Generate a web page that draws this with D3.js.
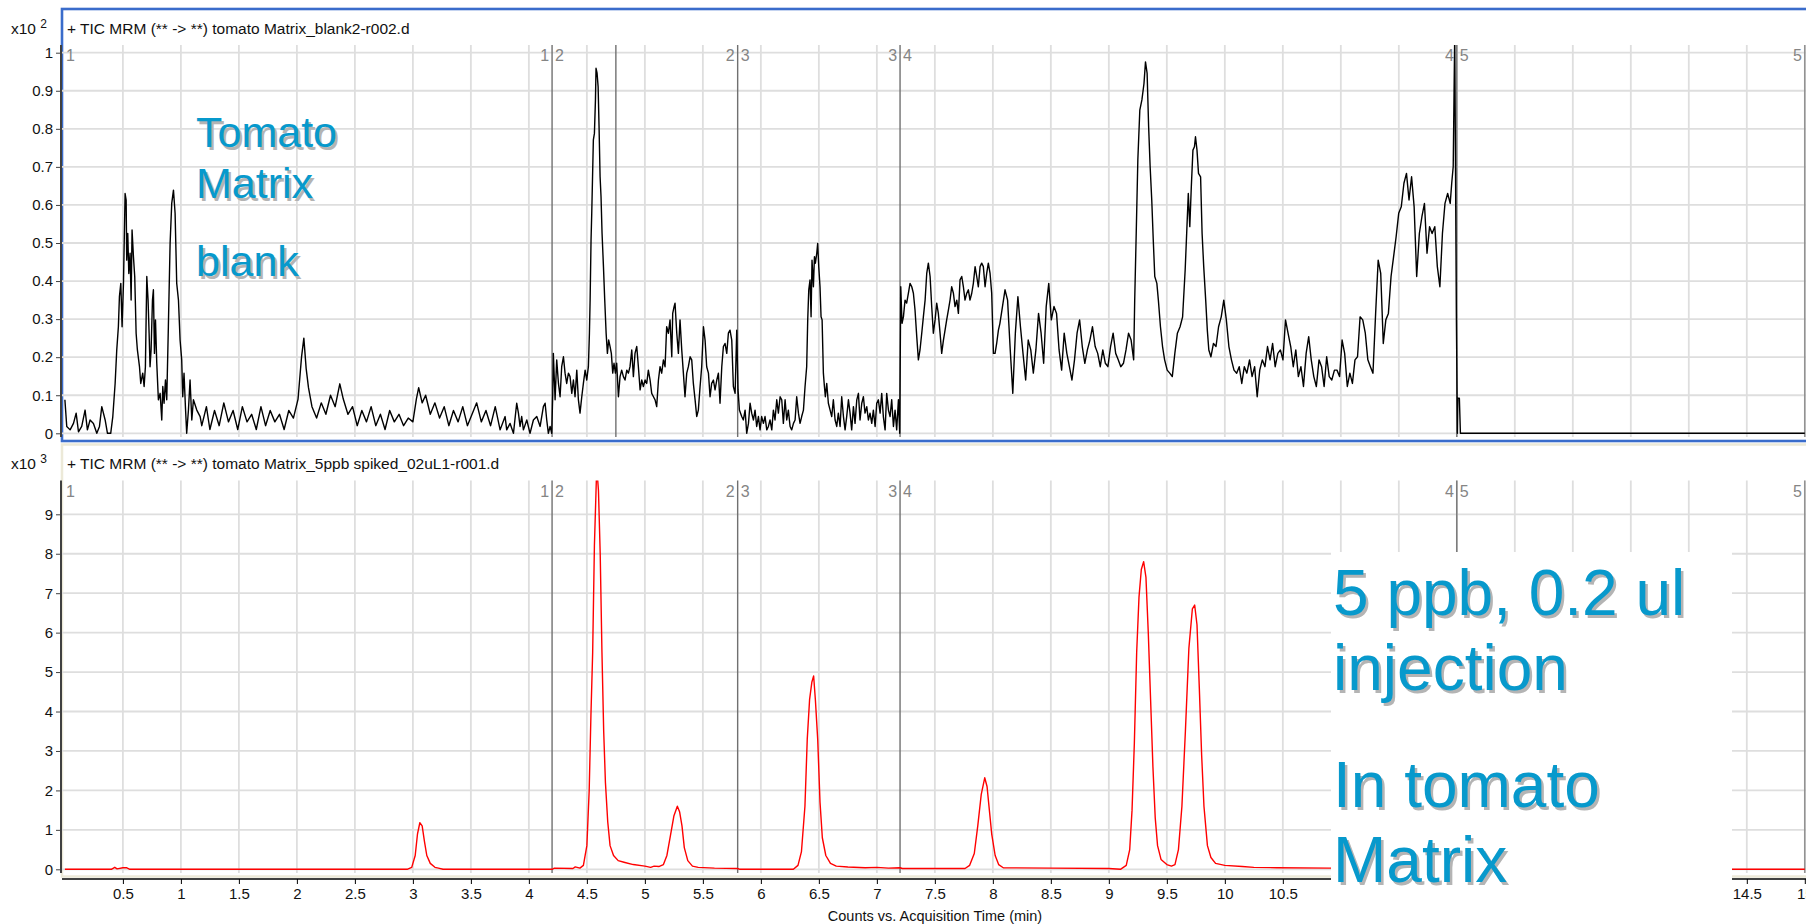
<!DOCTYPE html>
<html>
<head>
<meta charset="utf-8">
<script src="https://cdn.jsdelivr.net/npm/d3@7"></script>
<style>
  html, body { margin: 0; padding: 0; background: #ffffff; }
  svg { display: block; font-family: "Liberation Sans", Arial, sans-serif; }
</style>
</head>
<body>
<svg id="chart" width="1806" height="924"></svg>
<script>
// ---- Blank run: TIC counts (x10^2) vs acquisition time (min) ----
const blankTime = [
  0.000, 0.016, 0.045, 0.074, 0.097, 0.117, 0.145, 0.174, 0.194, 0.217, 0.246, 0.275, 0.298, 0.318, 0.347, 0.367, 0.395, 0.413,
  0.433, 0.447, 0.461, 0.470, 0.482, 0.493, 0.505, 0.519, 0.528, 0.533, 0.542, 0.551, 0.562, 0.571, 0.579, 0.591, 0.602, 0.614,
  0.625, 0.643, 0.654, 0.671, 0.683, 0.694, 0.706, 0.717, 0.726, 0.734, 0.743, 0.755, 0.763, 0.772, 0.781, 0.792, 0.806, 0.821,
  0.835, 0.844, 0.855, 0.867, 0.878, 0.892, 0.907, 0.921, 0.936, 0.950, 0.964, 0.979, 0.993, 1.007, 1.016, 1.027, 1.039, 1.050,
  1.065, 1.079, 1.094, 1.108, 1.137, 1.166,
  1.18, 1.22, 1.25, 1.29, 1.33, 1.37, 1.41, 1.45, 1.49, 1.53, 1.57, 1.61, 1.65, 1.69, 1.73, 1.77, 1.81, 1.85, 1.89, 1.93, 1.97,
  2.01, 2.04, 2.06, 2.08, 2.10, 2.13, 2.17, 2.21, 2.25, 2.29, 2.33, 2.37, 2.40, 2.44, 2.48, 2.52, 2.56, 2.60, 2.64, 2.68, 2.72,
  2.76, 2.80, 2.84, 2.88, 2.92, 2.96, 3.00, 3.03, 3.05, 3.08, 3.11, 3.15, 3.19, 3.23, 3.27, 3.31, 3.35, 3.39, 3.43, 3.47, 3.51,
  3.55, 3.59, 3.63, 3.67, 3.71,
  3.752, 3.795, 3.809, 3.838, 3.867, 3.895, 3.910, 3.924, 3.938, 3.953, 3.982, 4.010, 4.039, 4.068, 4.097, 4.125, 4.140, 4.154,
  4.168, 4.183, 4.197, 4.206, 4.211, 4.226, 4.240, 4.255, 4.269, 4.283, 4.298, 4.312, 4.326, 4.341, 4.355, 4.370, 4.384, 4.398,
  4.413, 4.427, 4.441, 4.456, 4.470, 4.485, 4.499, 4.513, 4.522, 4.528, 4.536, 4.542, 4.556, 4.565, 4.574, 4.579, 4.588, 4.597,
  4.605, 4.614, 4.622, 4.631, 4.643, 4.654, 4.666, 4.677, 4.688, 4.700, 4.711, 4.723, 4.734, 4.746, 4.757, 4.772, 4.786, 4.800,
  4.815, 4.829, 4.844, 4.858, 4.872, 4.887, 4.901, 4.915, 4.930, 4.944, 4.959, 4.973, 4.987, 5.002, 5.016, 5.030, 5.045, 5.059,
  5.074, 5.088, 5.102, 5.117, 5.131, 5.145, 5.160, 5.174, 5.188, 5.203, 5.217, 5.232, 5.240, 5.252, 5.260, 5.275, 5.289, 5.303,
  5.318, 5.332, 5.346, 5.361, 5.375, 5.390, 5.404, 5.418, 5.433, 5.447, 5.461, 5.476, 5.490, 5.505, 5.519, 5.533, 5.548, 5.562,
  5.576, 5.591, 5.605, 5.620, 5.634, 5.648, 5.663, 5.677, 5.691, 5.706, 5.720, 5.734, 5.749, 5.763, 5.778, 5.792, 5.803, 5.815,
  5.835, 5.849, 5.864, 5.878, 5.893, 5.907, 5.921, 5.936, 5.950, 5.964, 5.979, 5.993, 6.007, 6.022, 6.036, 6.051, 6.065, 6.079,
  6.094, 6.108, 6.122, 6.137, 6.151, 6.166, 6.180, 6.194, 6.209, 6.223, 6.237, 6.252, 6.266, 6.281, 6.295, 6.309, 6.324, 6.338,
  6.352, 6.367, 6.381, 6.395, 6.404, 6.413, 6.424, 6.433, 6.441, 6.453, 6.462, 6.470, 6.482, 6.490, 6.499, 6.510, 6.519, 6.528,
  6.539, 6.548, 6.556, 6.568, 6.582, 6.597, 6.611, 6.625, 6.640, 6.654, 6.668, 6.683, 6.697, 6.712, 6.726, 6.740, 6.755, 6.769,
  6.783, 6.798, 6.812, 6.827, 6.841, 6.855, 6.870, 6.884, 6.898, 6.913, 6.927, 6.941, 6.956, 6.970, 6.985, 6.999, 7.013, 7.028,
  7.042, 7.056, 7.071, 7.085, 7.100, 7.114, 7.128, 7.143, 7.157, 7.171, 7.186, 7.197, 7.206, 7.217, 7.229, 7.243, 7.257, 7.272,
  7.286, 7.301, 7.315, 7.329, 7.344, 7.358, 7.372, 7.387, 7.401, 7.416, 7.430, 7.444, 7.459, 7.473, 7.487, 7.502, 7.516, 7.530,
  7.545, 7.559, 7.574, 7.588, 7.602, 7.617, 7.631, 7.645, 7.660, 7.674, 7.689, 7.703, 7.717, 7.732, 7.746, 7.760, 7.775, 7.789,
  7.803, 7.818, 7.832, 7.847, 7.861, 7.875, 7.890, 7.904, 7.918, 7.933, 7.947, 7.961, 7.976, 7.990, 8.005, 8.019, 8.033, 8.048,
  8.061, 8.083, 8.105, 8.127, 8.150, 8.172, 8.194, 8.216, 8.238, 8.260, 8.283, 8.305, 8.327, 8.349, 8.371, 8.394, 8.416, 8.438,
  8.460, 8.482, 8.504, 8.527, 8.549, 8.571, 8.593, 8.615, 8.638, 8.660, 8.682, 8.704, 8.726, 8.748, 8.771, 8.793, 8.815, 8.837,
  8.859, 8.882, 8.904, 8.926, 8.948, 8.970, 8.992, 9.015, 9.037, 9.059, 9.081, 9.103, 9.126, 9.148, 9.170, 9.192, 9.214, 9.223,
  9.236, 9.250, 9.267, 9.285, 9.303, 9.316, 9.330, 9.343, 9.356, 9.370, 9.383, 9.396, 9.414, 9.427, 9.445, 9.463, 9.481, 9.503,
  9.525, 9.547, 9.569, 9.591, 9.614, 9.636, 9.658, 9.671, 9.685, 9.698, 9.711, 9.725, 9.738, 9.747, 9.760, 9.773, 9.791, 9.804,
  9.818, 9.835, 9.849, 9.862, 9.880, 9.902, 9.924, 9.946, 9.969, 9.991, 10.013, 10.035, 10.057, 10.079, 10.102, 10.124, 10.146,
  10.168, 10.190, 10.213, 10.235, 10.257, 10.279, 10.301, 10.323, 10.346, 10.368, 10.390, 10.412, 10.434, 10.457, 10.479, 10.501,
  10.523, 10.545, 10.568, 10.590, 10.612, 10.634, 10.656, 10.678, 10.701, 10.723, 10.745, 10.767, 10.789, 10.812, 10.834, 10.856,
  10.878, 10.900, 10.922, 10.945, 10.967, 10.989, 11.011, 11.033, 11.056, 11.078, 11.100, 11.122, 11.144, 11.166, 11.189, 11.211,
  11.233, 11.255, 11.277, 11.300, 11.322, 11.344, 11.366, 11.388, 11.410, 11.433, 11.455, 11.477, 11.499, 11.521, 11.544, 11.566,
  11.588, 11.610, 11.632, 11.654, 11.677, 11.699, 11.721, 11.743, 11.765, 11.787, 11.810, 11.832, 11.854, 11.876, 11.898, 11.921,
  11.943, 11.956, 11.969, 11.982, 11.996, 12.005, 12.009, 12.022, 12.031, 15.0
];
const blankCounts = [
  0.088, 0.018, 0.009, 0.026, 0.053, 0.004, 0.018, 0.061, 0.009, 0.035, 0.026, 0.000, 0.018, 0.070, 0.035, 0.000, 0.000, 0.044,
  0.131, 0.219, 0.280, 0.359, 0.394, 0.280, 0.394, 0.630, 0.613, 0.455, 0.525, 0.420, 0.473, 0.350, 0.534, 0.464, 0.412, 0.263,
  0.219, 0.175, 0.131, 0.158, 0.123, 0.175, 0.412, 0.350, 0.263, 0.175, 0.219, 0.350, 0.377, 0.210, 0.298, 0.184, 0.088, 0.105,
  0.035, 0.123, 0.079, 0.140, 0.088, 0.280, 0.499, 0.604, 0.639, 0.578, 0.394, 0.350, 0.245, 0.193, 0.096, 0.158, 0.070, 0.000,
  0.061, 0.140, 0.035, 0.088, 0.061, 0.044,
  0.02, 0.07, 0.01, 0.06, 0.02, 0.08, 0.03, 0.06, 0.01, 0.07, 0.03, 0.05, 0.01, 0.07, 0.02, 0.06, 0.03, 0.05, 0.01, 0.06, 0.04,
  0.09, 0.20, 0.25, 0.17, 0.12, 0.07, 0.04, 0.08, 0.05, 0.10, 0.07, 0.13, 0.09, 0.05, 0.07, 0.02, 0.06, 0.03, 0.07, 0.02, 0.05,
  0.01, 0.06, 0.03, 0.05, 0.02, 0.04, 0.03, 0.09, 0.12, 0.08, 0.10, 0.05, 0.08, 0.04, 0.07, 0.02, 0.06, 0.03, 0.07, 0.02, 0.05,
  0.08, 0.03, 0.06, 0.02, 0.07,
  0.009, 0.044, 0.009, 0.026, 0.000, 0.079, 0.053, 0.018, 0.044, 0.009, 0.035, 0.000, 0.035, 0.044, 0.018, 0.070, 0.079, 0.035,
  0.000, 0.018, 0.000, 0.105, 0.210, 0.088, 0.193, 0.131, 0.096, 0.175, 0.201, 0.158, 0.131, 0.158, 0.149, 0.105, 0.140, 0.096,
  0.166, 0.088, 0.053, 0.096, 0.131, 0.166, 0.140, 0.175, 0.263, 0.350, 0.508, 0.578, 0.771, 0.788, 0.876, 0.959, 0.946, 0.911,
  0.806, 0.674, 0.622, 0.525, 0.438, 0.350, 0.263, 0.210, 0.245, 0.228, 0.210, 0.158, 0.184, 0.158, 0.184, 0.096, 0.149, 0.166,
  0.149, 0.140, 0.166, 0.158, 0.175, 0.219, 0.149, 0.210, 0.228, 0.175, 0.114, 0.140, 0.123, 0.140, 0.131, 0.166, 0.140, 0.105,
  0.096, 0.088, 0.070, 0.140, 0.175, 0.158, 0.193, 0.175, 0.280, 0.263, 0.298, 0.201, 0.315, 0.333, 0.342, 0.263, 0.210, 0.298,
  0.219, 0.158, 0.096, 0.158, 0.175, 0.201, 0.193, 0.131, 0.088, 0.044, 0.061, 0.123, 0.175, 0.280, 0.245, 0.175, 0.158, 0.096,
  0.131, 0.140, 0.114, 0.140, 0.158, 0.079, 0.175, 0.228, 0.236, 0.210, 0.263, 0.271, 0.245, 0.123, 0.105, 0.271, 0.114, 0.061,
  0.044, 0.035, 0.061, 0.000, 0.026, 0.079, 0.053, 0.035, 0.061, 0.018, 0.044, 0.009, 0.044, 0.026, 0.044, 0.009, 0.018, 0.035,
  0.009, 0.061, 0.035, 0.088, 0.053, 0.096, 0.088, 0.026, 0.088, 0.035, 0.061, 0.018, 0.009, 0.026, 0.035, 0.096, 0.053, 0.026,
  0.044, 0.061, 0.123, 0.175, 0.298, 0.377, 0.403, 0.306, 0.455, 0.385, 0.464, 0.447, 0.473, 0.499, 0.438, 0.385, 0.306, 0.298,
  0.158, 0.123, 0.096, 0.131, 0.079, 0.061, 0.044, 0.088, 0.035, 0.018, 0.053, 0.018, 0.096, 0.044, 0.009, 0.044, 0.088, 0.053,
  0.009, 0.070, 0.026, 0.088, 0.105, 0.035, 0.079, 0.096, 0.053, 0.070, 0.035, 0.053, 0.026, 0.061, 0.018, 0.079, 0.088, 0.053,
  0.105, 0.044, 0.009, 0.105, 0.061, 0.044, 0.088, 0.018, 0.061, 0.009, 0.088, 0.000, 0.385, 0.289, 0.306, 0.350, 0.342, 0.368,
  0.394, 0.385, 0.368, 0.324, 0.254, 0.193, 0.219, 0.263, 0.306, 0.350, 0.420, 0.447, 0.412, 0.333, 0.263, 0.298, 0.342, 0.315,
  0.263, 0.210, 0.245, 0.271, 0.298, 0.324, 0.350, 0.385, 0.368, 0.333, 0.350, 0.315, 0.403, 0.412, 0.385, 0.350, 0.368, 0.377,
  0.350, 0.368, 0.394, 0.438, 0.412, 0.385, 0.438, 0.447, 0.438, 0.385, 0.420, 0.447, 0.420, 0.368, 0.210, 0.210, 0.236, 0.271,
  0.289, 0.333, 0.377, 0.350, 0.219, 0.105, 0.263, 0.359, 0.280, 0.210, 0.140, 0.245, 0.219, 0.158, 0.219, 0.315, 0.263, 0.184,
  0.333, 0.394, 0.298, 0.333, 0.315, 0.219, 0.166, 0.263, 0.210, 0.175, 0.140, 0.193, 0.263, 0.298, 0.228, 0.184, 0.219, 0.245,
  0.280, 0.228, 0.210, 0.175, 0.219, 0.184, 0.175, 0.228, 0.263, 0.210, 0.193, 0.175, 0.184, 0.219, 0.263, 0.245, 0.193, 0.350,
  0.525, 0.718, 0.849, 0.876, 0.919, 0.976, 0.946, 0.806, 0.701, 0.613, 0.508, 0.412, 0.394, 0.350, 0.280, 0.228, 0.193, 0.166,
  0.158, 0.149, 0.210, 0.263, 0.280, 0.306, 0.429, 0.525, 0.630, 0.543, 0.648, 0.744, 0.753, 0.779, 0.744, 0.683, 0.674, 0.525,
  0.438, 0.350, 0.271, 0.219, 0.201, 0.236, 0.228, 0.280, 0.306, 0.350, 0.298, 0.228, 0.193, 0.166, 0.158, 0.175, 0.131,
  0.175, 0.158, 0.193, 0.149, 0.175, 0.096, 0.166, 0.193, 0.175, 0.228, 0.193, 0.236, 0.175, 0.210, 0.219, 0.193,
  0.298, 0.263, 0.228, 0.175, 0.219, 0.149, 0.175, 0.123, 0.210, 0.254, 0.193, 0.149, 0.123, 0.193, 0.175, 0.123,
  0.201, 0.149, 0.140, 0.166, 0.166, 0.149, 0.245, 0.210, 0.123, 0.158, 0.131, 0.193, 0.201, 0.306, 0.298, 0.263,
  0.193, 0.175, 0.158, 0.315, 0.455, 0.420, 0.236, 0.298, 0.315, 0.412, 0.464, 0.517, 0.578, 0.595, 0.657, 0.683,
  0.613, 0.674, 0.595, 0.412, 0.525, 0.569, 0.604, 0.473, 0.543, 0.525, 0.543, 0.438, 0.385, 0.525, 0.604, 0.630,
  0.604, 0.657, 0.701, 1.050, 0.315, 0.000, 0.092, 0.092, 0.000, 0.000
];

// ---- Spiked run (5 ppb, 0.2 uL): TIC counts (x10^3) vs acquisition time (min) ----
const spikedTime = [
  0.00, 0.40, 0.43, 0.45, 0.50, 0.53, 0.56, 2.95, 2.99, 3.02, 3.04, 3.06, 3.08, 3.10, 3.12, 3.15, 3.19, 3.22, 3.26,
  4.20, 4.22, 4.38, 4.40, 4.44, 4.47, 4.50, 4.52, 4.535, 4.55, 4.565, 4.575, 4.585, 4.60, 4.615, 4.63, 4.645, 4.66, 4.68,
  4.70, 4.73, 4.77, 4.82, 4.90, 5.00, 5.05, 5.08, 5.12, 5.16, 5.19, 5.22, 5.25, 5.28, 5.30, 5.32, 5.34, 5.37, 5.41, 5.46,
  5.60, 5.80, 5.82, 6.28, 6.32, 6.35, 6.38, 6.40, 6.42, 6.44, 6.455, 6.47, 6.49, 6.51, 6.53, 6.56, 6.60, 6.65, 6.75, 6.90,
  7.00, 7.10, 7.20, 7.22, 7.50, 7.76, 7.80, 7.84, 7.87, 7.90, 7.93, 7.95, 7.97, 7.99, 8.02, 8.05, 8.09, 8.50, 9.00, 9.10,
  9.15, 9.18, 9.20, 9.22, 9.24, 9.26, 9.28, 9.30, 9.32, 9.34, 9.36, 9.38, 9.40, 9.42, 9.45, 9.50, 9.54, 9.57, 9.60, 9.63,
  9.66, 9.69, 9.72, 9.74, 9.76, 9.78, 9.80, 9.82, 9.85, 9.88, 9.92, 10.00, 10.15, 10.25, 10.45, 10.90, 11.90, 12.00, 15.00
];
const spikedCounts = [
  0.00, 0.00, 0.05, 0.01, 0.04, 0.04, 0.00, 0.00, 0.05, 0.35, 0.90, 1.18, 1.10, 0.70, 0.35, 0.15, 0.05, 0.03, 0.00,
  0.00, 0.03, 0.02, 0.06, 0.03, 0.10, 0.60, 2.00, 3.90, 5.50, 8.20, 9.20, 10.20, 9.60, 8.00, 5.50, 3.50, 2.20, 1.20,
  0.60, 0.35, 0.22, 0.18, 0.12, 0.08, 0.05, 0.08, 0.07, 0.12, 0.35, 0.85, 1.35, 1.60, 1.45, 1.10, 0.55, 0.22, 0.08, 0.05,
  0.03, 0.02, 0.00, 0.00, 0.10, 0.45, 1.60, 3.30, 4.30, 4.75, 4.90, 4.30, 3.30, 1.70, 0.80, 0.35, 0.15, 0.08, 0.06, 0.04,
  0.05, 0.03, 0.04, 0.02, 0.02, 0.02, 0.10, 0.40, 1.10, 1.90, 2.32, 2.10, 1.50, 0.90, 0.35, 0.12, 0.04, 0.03, 0.02, 0.00,
  0.10, 0.50, 1.50, 3.20, 5.50, 6.90, 7.60, 7.80, 7.40, 6.00, 4.30, 2.60, 1.30, 0.60, 0.25, 0.12, 0.08, 0.12, 0.50, 1.60,
  3.50, 5.60, 6.60, 6.70, 6.20, 4.60, 2.90, 1.60, 0.60, 0.30, 0.15, 0.10, 0.07, 0.05, 0.04, 0.03, 0.03, 0.00, 0.00
];

// ---- Axis ticks, segment boundaries and labels ----
const timeTicks = [0.5, 1, 1.5, 2, 2.5, 3, 3.5, 4, 4.5, 5, 5.5, 6, 6.5, 7, 7.5, 8, 8.5, 9, 9.5, 10, 10.5,
                   11, 11.5, 12, 12.5, 13, 13.5, 14, 14.5, 15];
const blankTicks = [0, 0.1, 0.2, 0.3, 0.4, 0.5, 0.6, 0.7, 0.8, 0.9, 1];
const spikedTicks = [0, 1, 2, 3, 4, 5, 6, 7, 8, 9];
const segmentBreaks = [4.2, 5.8, 7.2, 12.0];
const segmentNumbers = [["1", "2"], ["2", "3"], ["3", "4"], ["4", "5"]];
const blankExtraBreaks = [4.75];
const blankTitle = "+ TIC MRM (** -> **) tomato Matrix_blank2-r002.d";
const spikedTitle = "+ TIC MRM (** -> **) tomato Matrix_5ppb spiked_02uL1-r001.d";
const xAxisTitle = "Counts vs. Acquisition Time (min)";
const blankNote = ["Tomato", "Matrix", "blank"];
const spikedNote = ["5 ppb, 0.2 ul", "injection", "In tomato", "Matrix"];

// ---- Layout ----
const W = 1806, H = 924;
const plotLeft = 62, plotRight = 1805;
const topPlot = { top: 45, bottom: 437 };
const botPlot = { top: 480.5, bottom: 873 };
const noteBox = { x: 1331, y: 552, w: 401, h: 352 };

const svg = d3.select("#chart");

const x = d3.scaleLinear().domain([-0.025, 15]).range([plotLeft, 1804.8]);
const yTop = d3.scaleLinear().domain([0, 1]).range([433.3, 52.7]);
const yBot = d3.scaleLinear().domain([0, 9]).range([869.3, 514.3]);

const gridColor = "#dedede";
const fmt = d3.format("~g");

// Panel frames
svg.append("rect")
  .attr("x", 62).attr("y", 9).attr("width", 1760).attr("height", 432)
  .attr("fill", "none").attr("stroke", "#3a6ccb").attr("stroke-width", 2.6);
svg.append("rect")
  .attr("x", 62).attr("y", 444.5).attr("width", 1760).attr("height", 432)
  .attr("fill", "none").attr("stroke", "#ece9d8").attr("stroke-width", 2.5);

function drawPanel(cfg) {
  const g = svg.append("g");
  const clipId = "clip-" + cfg.id;
  svg.append("clipPath").attr("id", clipId)
    .append("rect")
    .attr("x", plotLeft).attr("y", cfg.plot.top)
    .attr("width", plotRight - plotLeft).attr("height", cfg.plot.bottom - cfg.plot.top);

  // vertical grid
  g.append("g").selectAll("line").data(timeTicks).join("line")
    .attr("x1", d => x(d)).attr("x2", d => x(d))
    .attr("y1", cfg.plot.top).attr("y2", cfg.plot.bottom)
    .attr("stroke", gridColor).attr("stroke-width", 1.8);
  // horizontal grid
  g.append("g").selectAll("line").data(cfg.ticks).join("line")
    .attr("x1", plotLeft).attr("x2", W)
    .attr("y1", d => cfg.y(d)).attr("y2", d => cfg.y(d))
    .attr("stroke", gridColor).attr("stroke-width", 1.8);

  // segment boundaries
  const breaks = segmentBreaks.concat(cfg.extraBreaks || []);
  g.append("g").selectAll("line").data(breaks).join("line")
    .attr("x1", d => x(d)).attr("x2", d => x(d))
    .attr("y1", cfg.plot.top).attr("y2", cfg.plot.bottom)
    .attr("stroke", "#707070").attr("stroke-width", 1.4);
  g.append("line")
    .attr("x1", x(15)).attr("x2", x(15))
    .attr("y1", cfg.plot.top).attr("y2", cfg.plot.bottom)
    .attr("stroke", "#8a8a8a").attr("stroke-width", 1.4);

  // segment numbers
  const segG = g.append("g").attr("fill", "#858585").style("font-size", "16px");
  const ly = cfg.plot.top + 16;
  segG.append("text").attr("x", plotLeft + 4).attr("y", ly).text("1");
  segmentBreaks.forEach((b, i) => {
    segG.append("text").attr("x", x(b) - 3).attr("y", ly).attr("text-anchor", "end").text(segmentNumbers[i][0]);
    segG.append("text").attr("x", x(b) + 3).attr("y", ly).text(segmentNumbers[i][1]);
  });
  segG.append("text").attr("x", x(15) - 3).attr("y", ly).attr("text-anchor", "end").text("5");

  // trace
  const pts = cfg.time.map((t, i) => [t, cfg.values[i]]);
  g.append("path")
    .datum(pts)
    .attr("clip-path", `url(#${clipId})`)
    .attr("fill", "none")
    .attr("stroke", cfg.color)
    .attr("stroke-width", 1.4)
    .attr("stroke-linejoin", "round")
    .attr("d", d3.line().x(d => x(d[0])).y(d => cfg.y(d[1])));

  // y axis
  const axis = d3.axisLeft(cfg.y).tickValues(cfg.ticks).tickFormat(fmt).tickSize(5).tickPadding(3).tickSizeOuter(0);
  const ag = g.append("g").attr("transform", `translate(${plotLeft - 1},0)`).call(axis);
  ag.select(".domain").attr("d", `M0,${cfg.plot.top}V${cfg.plot.bottom}`).attr("stroke", "#404040").attr("stroke-width", 2);
  ag.selectAll(".tick line").attr("stroke", "#404040");
  ag.selectAll(".tick text").attr("fill", "#111").style("font-size", "15px").style("font-family", "Liberation Sans, Arial, sans-serif");

  // exponent label and title
  const ex = g.append("text").attr("x", 11).attr("y", cfg.titleY).attr("fill", "#111").style("font-size", "15.5px");
  ex.append("tspan").text("x10 ");
  ex.append("tspan").attr("dy", -6).style("font-size", "12px").text(cfg.exponent);
  g.append("text").attr("x", 67).attr("y", cfg.titleY).attr("fill", "#111").style("font-size", "15.5px").text(cfg.title);
}

drawPanel({ id: "blank", plot: topPlot, y: yTop, ticks: blankTicks, time: blankTime, values: blankCounts,
            color: "#000000", extraBreaks: blankExtraBreaks, exponent: "2", title: blankTitle, titleY: 34 });
drawPanel({ id: "spiked", plot: botPlot, y: yBot, ticks: spikedTicks, time: spikedTime, values: spikedCounts,
            color: "#ff0000", extraBreaks: [], exponent: "3", title: spikedTitle, titleY: 469 });

// Bottom time axis; labels that sit under the note box are left out
const underNote = d => x(d) > noteBox.x - 10 && x(d) < noteBox.x + noteBox.w + 10;
const xAxis = d3.axisBottom(x).tickValues(timeTicks)
  .tickFormat(d => underNote(d) ? "" : fmt(d)).tickSize(5).tickPadding(4).tickSizeOuter(0);
const xg = svg.append("g").attr("transform", "translate(0,879)").call(xAxis);
xg.select(".domain").attr("d", `M${plotLeft},0H${W}`).attr("stroke", "#000").attr("stroke-width", 1.6);
xg.selectAll(".tick line").attr("stroke", "#000");
xg.selectAll(".tick text").attr("fill", "#111").style("font-size", "15px").style("font-family", "Liberation Sans, Arial, sans-serif");
svg.append("text").attr("x", 935).attr("y", 921).attr("text-anchor", "middle")
  .attr("fill", "#111").style("font-size", "14.5px").text(xAxisTitle);

// Annotations with drop shadow
function shadowText(lines, xPos, baselines, size) {
  const g = svg.append("g").style("font-size", size + "px");
  lines.forEach((s, i) => {
    g.append("text").attr("x", xPos + 2.5).attr("y", baselines[i] + 2.5).attr("fill", "#b4b4b4").text(s);
    g.append("text").attr("x", xPos).attr("y", baselines[i]).attr("fill", "#0799cc").text(s);
  });
}
shadowText(blankNote, 196, [147, 198, 276], 43);

svg.append("rect").attr("x", noteBox.x).attr("y", noteBox.y).attr("width", noteBox.w).attr("height", noteBox.h).attr("fill", "#ffffff");
shadowText(spikedNote, 1333, [615, 690, 807, 882], 64);
</script>
</body>
</html>
